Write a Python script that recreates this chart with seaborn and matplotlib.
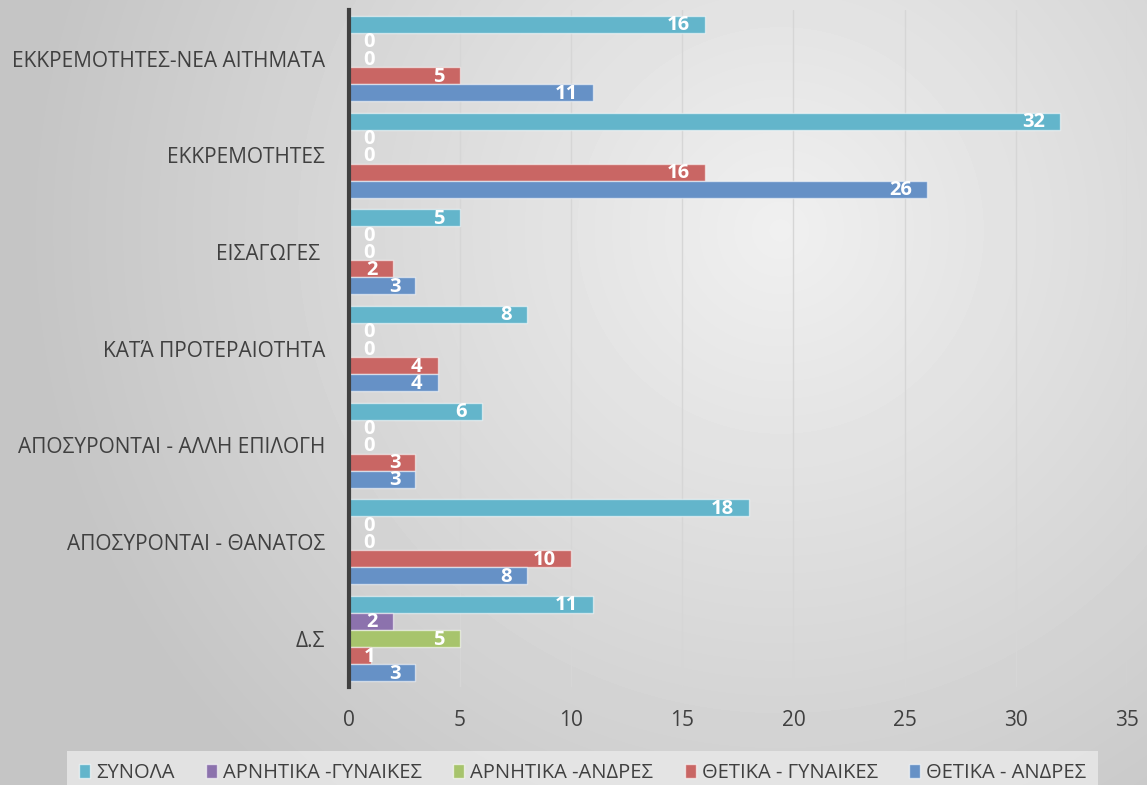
import numpy as np
import pandas as pd
import matplotlib
matplotlib.use("Agg")
import matplotlib.pyplot as plt
import seaborn as sns
from matplotlib.patches import Patch

# data
categories = [
    "ΕΚΚΡΕΜΟΤΗΤΕΣ-ΝΕΑ ΑΙΤΗΜΑΤΑ",
    "ΕΚΚΡΕΜΟΤΗΤΕΣ",
    "ΕΙΣΑΓΩΓΕΣ ",
    "ΚΑΤΆ ΠΡΟΤΕΡΑΙΟΤΗΤΑ",
    "ΑΠΟΣΥΡΟΝΤΑΙ - ΑΛΛΗ ΕΠΙΛΟΓΗ",
    "ΑΠΟΣΥΡΟΝΤΑΙ - ΘΑΝΑΤΟΣ",
    "Δ.Σ",
]
series = ["ΣΥΝΟΛΑ", "ΑΡΝΗΤΙΚΑ -ΓΥΝΑΙΚΕΣ", "ΑΡΝΗΤΙΚΑ -ΑΝΔΡΕΣ",
          "ΘΕΤΙΚΑ - ΓΥΝΑΙΚΕΣ", "ΘΕΤΙΚΑ - ΑΝΔΡΕΣ"]
synola = [16, 32, 5, 8, 6, 18, 11]
arn_gyn = [0, 0, 0, 0, 0, 0, 2]
arn_andr = [0, 0, 0, 0, 0, 0, 5]
thet_gyn = [5, 16, 2, 4, 3, 10, 1]
thet_andr = [11, 26, 3, 4, 3, 8, 3]
x_ticks = [0, 5, 10, 15, 20, 25, 30, 35]

colors = ["#63b5cb", "#8c72ad", "#a7c46c", "#c96664", "#6691c6"]
text_col = "#404040"

rows = []
for s, vals in zip(series, [synola, arn_gyn, arn_andr, thet_gyn, thet_andr]):
    for c, v in zip(categories, vals):
        rows.append({"cat": c, "series": s, "val": v})
df = pd.DataFrame(rows)

sns.set_theme(style="white")
plt.rcParams["font.family"] = ["Open Sans", "DejaVu Sans"]

fig = plt.figure(figsize=(11.47, 7.85), dpi=100)

# gradient background
bg = fig.add_axes([0, 0, 1, 1], zorder=-10)
yy, xx = np.mgrid[0:785, 0:1147]
r = np.sqrt((xx - 780) ** 2 + (yy - 230) ** 2) / 760
r = np.clip(r, 0, 1)
shade = 0.94 - 0.17 * r
bg.imshow(shade, cmap="gray", vmin=0, vmax=1, aspect="auto", extent=[0, 1, 0, 1], origin="upper")
bg.axis("off")

ax = fig.add_axes([0.304, 0.125, 0.6786, 0.862])
ax.patch.set_alpha(0)

sns.barplot(data=df, y="cat", x="val", hue="series", hue_order=series, order=categories,
            palette=colors, saturation=1, orient="h", width=0.88, dodge=True, ax=ax,
            edgecolor=(1, 1, 1, 0.55), linewidth=1.0, legend=False, zorder=3)

ax.set_xlim(0, 35)
ax.set_xticks(x_ticks)
ax.set_xlabel("")
ax.set_ylabel("")
ax.grid(axis="x", color="#d6d6d6", linewidth=1.0, zorder=0)
ax.set_axisbelow(True)
for sp in ["top", "right", "bottom"]:
    ax.spines[sp].set_visible(False)
ax.spines["left"].set_color("#404040")
ax.spines["left"].set_linewidth(3)
ax.spines["left"].set_zorder(5)
ax.tick_params(axis="x", length=0, pad=17, labelsize=15, labelcolor=text_col)
ax.tick_params(axis="y", length=0, pad=17, labelsize=15, labelcolor=text_col)

# value labels, white bold, near the end of each bar
for cont in ax.containers:
    for bar in cont:
        v = bar.get_width()
        yc = bar.get_y() + bar.get_height() / 2
        if v - 0.7 < 1.3:
            ax.text(0.92, yc + 0.01, f"{v:.0f}", ha="center", va="center",
                    color="white", fontsize=14.5, fontweight="bold", zorder=6)
        else:
            ax.text(v - 0.68, yc + 0.01, f"{v:.0f}", ha="right", va="center",
                    color="white", fontsize=14.5, fontweight="bold", zorder=6)

handles = [Patch(facecolor=c, edgecolor=(1, 1, 1, 0.6), linewidth=1) for c in colors]
leg = fig.legend(handles, series, loc="lower center", bbox_to_anchor=(0.508, -0.026), ncol=5,
                 frameon=True, fontsize=14.5, handlelength=0.55, handleheight=0.7,
                 handletextpad=0.3, columnspacing=1.55, borderpad=0.6,
                 fancybox=False)
leg.get_frame().set_facecolor("#e8e8e8")
leg.get_frame().set_alpha(0.85)
leg.get_frame().set_edgecolor("none")
for t in leg.get_texts():
    t.set_color(text_col)

fig.savefig("out.png", dpi=100)
